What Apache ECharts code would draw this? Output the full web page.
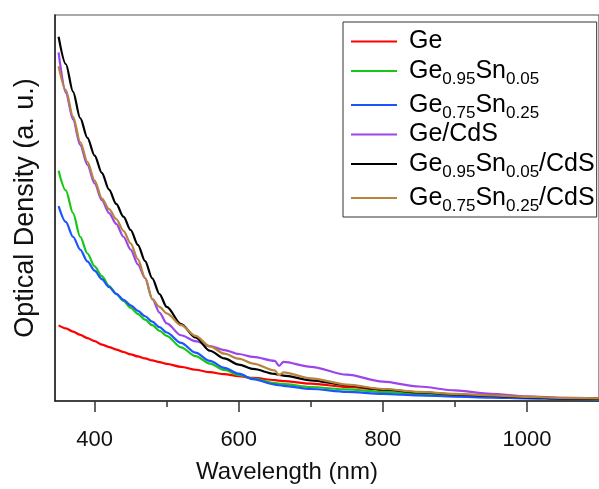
<!DOCTYPE html>
<html>
<head>
<meta charset="utf-8">
<script src="https://cdn.jsdelivr.net/npm/echarts@6/dist/echarts.min.js"></script>
<style>
  html, body { margin: 0; padding: 0; background: #fff; }
  #chart { width: 599px; height: 489px; }
</style>
</head>
<body>
<div id="chart"></div>
<script>
// Wavelength grid (nm) shared by all spectra
const wavelengths = [350, 360, 370, 380, 390, 400, 410, 420, 430, 440, 450, 460, 470, 480, 490, 500,
  520, 540, 560, 580, 600, 620, 650, 656, 662, 700, 750, 800, 850, 900, 950, 1000, 1050, 1100];

// Optical density (a. u.) for each sample
const odGe = [0.767, 0.737, 0.704, 0.671, 0.639, 0.607, 0.573, 0.547, 0.522, 0.497, 0.474, 0.452, 0.432, 0.412, 0.394, 0.377,
  0.347, 0.317, 0.292, 0.272, 0.252, 0.234, 0.212, 0.207, 0.202, 0.177, 0.142, 0.112, 0.087, 0.067, 0.052, 0.037, 0.027, 0.022];
const odGeSn05 = [2.337, 2.137, 1.907, 1.667, 1.497, 1.367, 1.267, 1.167, 1.087, 1.017, 0.947, 0.885, 0.826, 0.769, 0.713, 0.660,
  0.545, 0.455, 0.380, 0.315, 0.265, 0.227, 0.182, 0.177, 0.172, 0.142, 0.117, 0.092, 0.072, 0.057, 0.047, 0.032, 0.025, 0.020];
const odGeSn25 = [1.977, 1.817, 1.667, 1.537, 1.417, 1.322, 1.237, 1.157, 1.087, 1.027, 0.970, 0.915, 0.860, 0.805, 0.750, 0.695,
  0.590, 0.490, 0.407, 0.337, 0.277, 0.222, 0.167, 0.160, 0.154, 0.122, 0.092, 0.072, 0.057, 0.044, 0.034, 0.027, 0.021, 0.017];
const odGeCdS = [3.537, 3.127, 2.857, 2.597, 2.397, 2.207, 2.037, 1.907, 1.797, 1.667, 1.537, 1.387, 1.247, 1.037, 0.897, 0.787,
  0.667, 0.607, 0.557, 0.517, 0.477, 0.447, 0.407, 0.357, 0.397, 0.347, 0.267, 0.197, 0.147, 0.107, 0.072, 0.047, 0.032, 0.027];
const odGeSn05CdS = [3.697, 3.420, 3.140, 2.870, 2.670, 2.490, 2.315, 2.145, 2.000, 1.870, 1.735, 1.585, 1.420, 1.245, 1.085, 0.955,
  0.780, 0.645, 0.510, 0.432, 0.370, 0.325, 0.275, 0.266, 0.258, 0.210, 0.160, 0.118, 0.087, 0.066, 0.051, 0.037, 0.027, 0.022];
const odGeSn25CdS = [3.397, 3.157, 2.887, 2.627, 2.427, 2.237, 2.057, 1.947, 1.847, 1.727, 1.600, 1.440, 1.250, 1.034, 0.955, 0.890,
  0.770, 0.660, 0.555, 0.480, 0.430, 0.380, 0.310, 0.262, 0.290, 0.230, 0.167, 0.122, 0.092, 0.072, 0.057, 0.042, 0.032, 0.027];

const sampleNames = ['Ge', 'Ge0.95Sn0.05', 'Ge0.75Sn0.25', 'Ge/CdS', 'Ge0.95Sn0.05/CdS', 'Ge0.75Sn0.25/CdS'];
const sampleColors = ['#ff0000', '#17c617', '#1a55ff', '#9b45ea', '#000000', '#b8843e'];
const sampleValues = [odGe, odGeSn05, odGeSn25, odGeCdS, odGeSn05CdS, odGeSn25CdS];

const majorTicks = [400, 600, 800, 1000];
const minorTicks = [500, 700, 900];

const FONT = 'Arial, "Liberation Sans", sans-serif';

// Turn "Ge0.95Sn0.05/CdS" into rich text with subscripted compositions
function richName(name) {
  return name.replace(/([A-Za-z\/]+)|([\d.]+)/g, (m, word, num) => word ? '{m|' + word + '}' : '{s|' + num + '}');
}

const chart = echarts.init(document.getElementById('chart'), null, { renderer: 'canvas' });

chart.setOption({
  animation: false,
  backgroundColor: '#ffffff',
  grid: {
    left: 55, right: -6, top: 15, bottom: 82,
    show: true, borderColor: '#555', borderWidth: 1.2, backgroundColor: 'transparent'
  },
  legend: {
    orient: 'vertical',
    left: 343, top: 22,
    padding: [7, 2, 2, 8],
    itemGap: 0,
    itemWidth: 46,
    itemHeight: 2,
    icon: 'rect',
    backgroundColor: '#ffffff',
    borderColor: '#333',
    borderWidth: 1,
    data: sampleNames,
    formatter: richName,
    textStyle: {
      padding: [0, 0, 0, 7],
      rich: {
        m: { fontSize: 25, lineHeight: 26, fontFamily: FONT, color: '#000' },
        s: { fontSize: 17, lineHeight: 26, fontFamily: FONT, color: '#000', padding: [17, 0, 0, 0] }
      }
    }
  },
  xAxis: [{
    type: 'value', min: 345, max: 1100, position: 'bottom',
    axisLine: { show: true, onZero: false, lineStyle: { color: '#222', width: 1.5 } },
    axisTick: { show: true, inside: false, length: 11, customValues: majorTicks, lineStyle: { color: '#333', width: 1.5 } },
    axisLabel: { customValues: majorTicks, formatter: v => String(v), fontSize: 22, color: '#111', margin: 28, fontFamily: FONT },
    splitLine: { show: false },
    name: 'Wavelength (nm)', nameLocation: 'middle', nameGap: 59,
    nameTextStyle: { fontSize: 24, color: '#111', fontFamily: FONT, padding: [0, 80, 0, 0] }
  }, {
    type: 'value', min: 345, max: 1100, position: 'bottom',
    axisLine: { show: false },
    axisTick: { show: true, inside: false, length: 6, customValues: minorTicks, lineStyle: { color: '#333', width: 1.5 } },
    axisLabel: { show: false },
    splitLine: { show: false }
  }],
  yAxis: {
    type: 'value', min: 0, max: 3.917,
    axisLine: { show: true, onZero: false, lineStyle: { color: '#222', width: 1.5 } },
    axisTick: { show: false },
    axisLabel: { show: false },
    splitLine: { show: false },
    name: 'Optical Density (a. u.)', nameLocation: 'middle', nameGap: 16, nameRotate: 90,
    nameTextStyle: { fontSize: 27, color: '#111', fontFamily: FONT }
  },
  series: sampleNames.map((name, k) => ({
    name: name,
    type: 'line',
    xAxisIndex: 0,
    symbol: 'none',
    smooth: 0.3,
    smoothMonotone: 'x',
    color: sampleColors[k],
    lineStyle: { width: 2.2, color: sampleColors[k] },
    data: wavelengths.map((w, i) => [w, sampleValues[k][i]])
  }))
});
</script>
</body>
</html>
